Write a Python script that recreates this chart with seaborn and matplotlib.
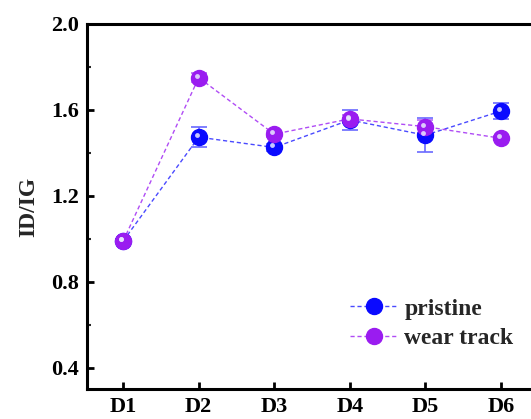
import numpy as np
import pandas as pd
import matplotlib
matplotlib.use("Agg")
import matplotlib.pyplot as plt
import matplotlib.transforms as mtransforms
from matplotlib.ticker import MultipleLocator
from matplotlib.lines import Line2D
import seaborn as sns

categories = ["D1", "D2", "D3", "D4", "D5", "D6"]
pristine = [0.99, 1.473, 1.425, 1.553, 1.482, 1.594]
pristine_err = [0.01, 0.045, 0.015, 0.045, 0.078, 0.037]
wear = [0.99, 1.75, 1.487, 1.558, 1.522, 1.468]
wear_err = [0.01, 0.02, 0.015, 0.02, 0.03, 0.01]

sns.set_theme(style="white")
plt.rcParams['font.family'] = ['Liberation Serif', 'DejaVu Serif']
plt.rcParams['font.weight'] = 'bold'

x = np.arange(1, len(categories) + 1)
df = pd.DataFrame({
    "x": np.concatenate([x, x]),
    "val": pristine + wear,
    "series": ["pristine"] * len(x) + ["wear track"] * len(x),
})

fig = plt.figure(figsize=(5.31, 4.19), dpi=100)
ax = fig.add_axes([87/531, 1 - 389/419, 450/531, (389-24)/419])

colors = {"pristine": "#0a0aff", "wear track": "#9a1cf0"}
line_colors = {"pristine": "#4a4aff", "wear track": "#b04cf5"}

sns.lineplot(data=df, x="x", y="val", hue="series", palette=line_colors,
             ax=ax, linewidth=1.0, legend=False, zorder=3)
for l in list(ax.lines):
    l.set_dashes([3, 2])

ax.errorbar(x, pristine, yerr=pristine_err, fmt="none", ecolor="#6a6aff",
            elinewidth=1.2, capsize=6, capthick=1.2, zorder=2)
ax.errorbar(x, wear, yerr=wear_err, fmt="none", ecolor="#b56af5",
            elinewidth=1.2, capsize=6, capthick=1.2, zorder=2)

for name, vals in [("pristine", pristine), ("wear track", wear)]:
    ax.plot(x, vals, linestyle="none", marker="o", markersize=11.5,
            markerfacecolor=colors[name], markeredgecolor=colors[name], zorder=4)
    off = mtransforms.offset_copy(ax.transData, fig=fig, x=-1.5, y=1.5, units="points")
    ax.plot(x, vals, linestyle="none", marker="o", markersize=3.5,
            markerfacecolor="#e8e8ff", markeredgecolor="none", alpha=0.85,
            transform=off, zorder=5)

handles = [
    Line2D([0], [0], color=line_colors["pristine"], dashes=[3, 2], lw=1.0,
           marker="o", markersize=11.5, markerfacecolor=colors["pristine"],
           markeredgecolor=colors["pristine"]),
    Line2D([0], [0], color=line_colors["wear track"], dashes=[3, 2], lw=1.0,
           marker="o", markersize=11.5, markerfacecolor=colors["wear track"],
           markeredgecolor=colors["wear track"]),
]
leg = ax.legend(handles, ["pristine", "wear track"], loc="lower right",
                bbox_to_anchor=(0.995, 0.05), frameon=False,
                prop={"family": "Liberation Serif", "weight": "bold", "size": 17},
                handlelength=2.0, handletextpad=0.3, labelspacing=0.35)

ax.set_xlim(0.52, 6.48)
ax.set_ylim(0.3, 2.0)
ax.set_xticks(x)
ax.set_xticklabels(categories)
ax.set_yticks([0.4, 0.8, 1.2, 1.6, 2.0])
ax.yaxis.set_minor_locator(MultipleLocator(0.2))
ax.set_xlabel("")
ax.set_ylabel("ID/IG", fontsize=17, fontweight="bold", labelpad=8)

for s in ax.spines.values():
    s.set_linewidth(2.2)
    s.set_color("black")
ax.tick_params(axis="both", which="major", direction="in", length=5, width=2,
               labelsize=16, colors="black", bottom=True, left=True, top=False, right=False)
ax.tick_params(axis="y", which="major", pad=6)
ax.tick_params(axis="x", which="major", pad=6)
ax.tick_params(axis="y", which="minor", direction="in", length=3, width=1.5, left=True)
for lab in ax.get_xticklabels() + ax.get_yticklabels():
    lab.set_fontweight("bold")

fig.savefig("out.png", dpi=100)
